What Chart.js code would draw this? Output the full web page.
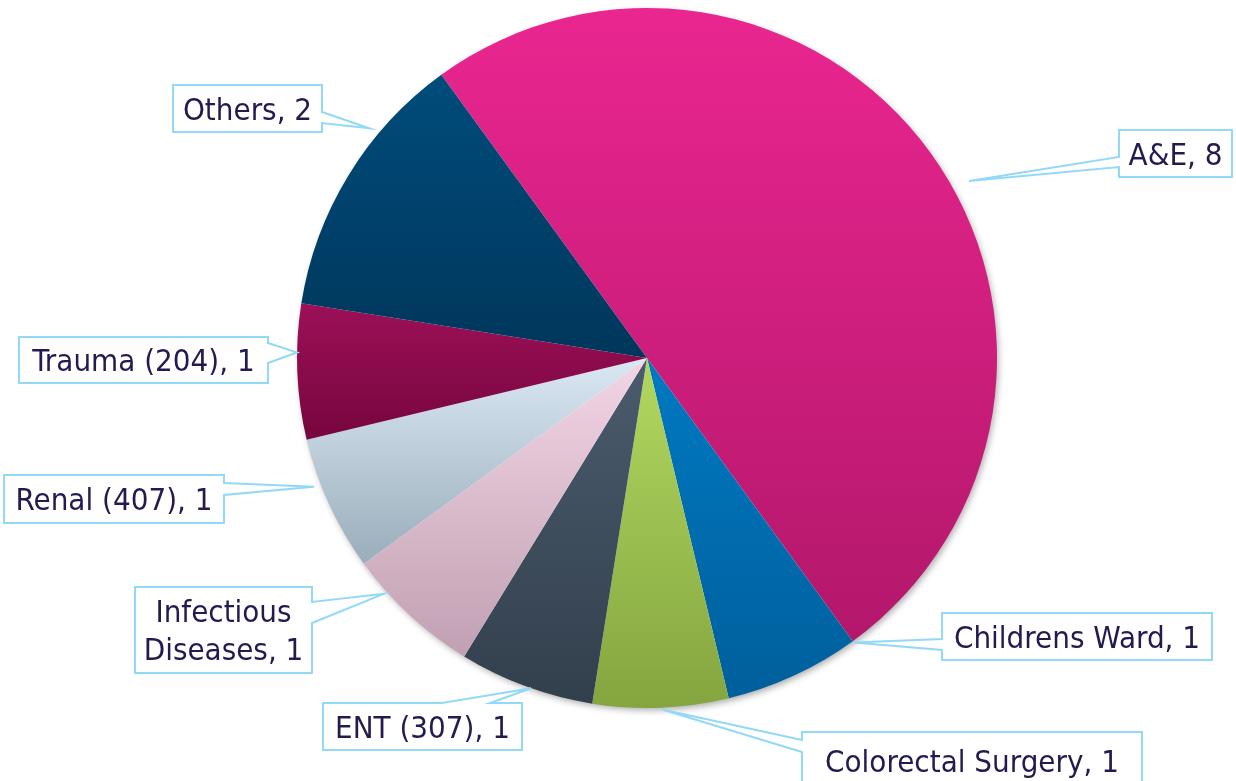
<!DOCTYPE html>
<html>
<head>
<meta charset="utf-8">
<script src="https://cdn.jsdelivr.net/npm/chart.js@4"></script>
<style>
  html, body { margin: 0; padding: 0; background: #fff; }
  #wrap { width: 1236px; height: 781px; position: relative; }
</style>
</head>
<body>
<div id="wrap"><canvas id="pie"></canvas></div>
<script>
// --- Data ---
const categories = ['A&E', 'Childrens Ward', 'Colorectal Surgery', 'ENT (307)',
  'Infectious Diseases', 'Renal (407)', 'Trauma (204)', 'Others'];
const counts = [8, 1, 1, 1, 1, 1, 1, 2];

// slice gradients, top colour -> bottom colour
const topColors = ['#ea2690', '#0079c1', '#b2d860', '#4b5c6d', '#f3d6e6', '#dae8f4', '#9c1058', '#004c7b'];
const bottomColors = ['#b3176b', '#005f9c', '#84a53f', '#323f4d', '#c0a0b2', '#9aadba', '#77053e', '#00365b'];

// --- Callout layout (box in px, which edge the pointer leaves from, where it lands on the slice) ---
const callouts = [
  { box: [1119, 130, 113, 47], edge: 'left', base: [157, 167], frac: 0.54, rad: 1.05, lines: ['A&E, 8'] },
  { box: [942, 613, 270, 47], edge: 'left', base: [639, 650], frac: 0.0, rad: 1.005, lines: ['Childrens Ward, 1'] },
  { box: [802, 732, 340, 60], edge: 'left', base: [740, 752], frac: 0.49, rad: 1.005, lines: ['Colorectal Surgery, 1'], textY: 761 },
  { box: [323, 703, 199, 47], edge: 'top', base: [442, 490], frac: 0.46, rad: 1.0, lines: ['ENT (307), 1'] },
  { box: [135, 587, 177, 86], edge: 'right', base: [602, 623], frac: 0.74, rad: 1.01, lines: ['Infectious', 'Diseases, 1'] },
  { box: [4, 475, 220, 48], edge: 'right', base: [483, 495], frac: 0.66, rad: 1.02, lines: ['Renal (407), 1'] },
  { box: [19, 337, 249, 46], edge: 'right', base: [343, 363], frac: 0.64, rad: 1.0, lines: ['Trauma (204), 1'] },
  { box: [173, 85, 149, 47], edge: 'right', base: [112, 123], frac: 0.68, rad: 1.03, lines: ['Others, 2'] }
];

const ROTATION = -36;
const TEXT_COLOR = '#231b4f';
const BORDER_COLOR = '#92d8f7';
const FONT = '31px "DejaVu Sans Condensed", "Liberation Sans", Arial, sans-serif';

// vertical gradient spanning the slice's own bounding box
function sliceGradient(context) {
  const chart = context.chart;
  const area = chart.chartArea;
  const i = context.dataIndex;
  if (!area) return topColors[i];
  const cx = (area.left + area.right) / 2;
  const cy = (area.top + area.bottom) / 2;
  const r = Math.min(area.right - area.left, area.bottom - area.top) / 2;
  const total = counts.reduce((a, b) => a + b, 0);
  const before = counts.slice(0, i).reduce((a, b) => a + b, 0);
  const a0 = (ROTATION - 90) * Math.PI / 180 + before / total * Math.PI * 2;
  const a1 = a0 + counts[i] / total * Math.PI * 2;
  const ys = [cy, cy + r * Math.sin(a0), cy + r * Math.sin(a1)];
  for (let k = -4; k <= 8; k++) {
    const a = k * Math.PI / 2 + Math.PI / 2;
    if (a > a0 && a < a1) ys.push(cy + r * Math.sin(a));
  }
  const g = chart.ctx.createLinearGradient(0, Math.min(...ys), 0, Math.max(...ys));
  g.addColorStop(0, topColors[i]);
  g.addColorStop(1, bottomColors[i]);
  return g;
}

const pieShadow = {
  id: 'pieShadow',
  beforeDatasetsDraw(chart) {
    const arc = chart.getDatasetMeta(0).data[0];
    if (!arc) return;
    const ctx = chart.ctx;
    ctx.save();
    ctx.shadowColor = 'rgba(0,0,0,0.35)';
    ctx.shadowBlur = 7;
    ctx.shadowOffsetX = 2;
    ctx.shadowOffsetY = 3;
    ctx.fillStyle = '#ffffff';
    ctx.beginPath();
    ctx.arc(arc.x, arc.y, arc.outerRadius - 1, 0, Math.PI * 2);
    ctx.fill();
    ctx.restore();
  }
};

const calloutLabels = {
  id: 'calloutLabels',
  afterDatasetsDraw(chart) {
    const ctx = chart.ctx;
    const arcs = chart.getDatasetMeta(0).data;
    callouts.forEach((c, i) => {
      const arc = arcs[i];
      const ang = arc.startAngle + (arc.endAngle - arc.startAngle) * c.frac;
      const tx = arc.x + Math.cos(ang) * arc.outerRadius * c.rad;
      const ty = arc.y + Math.sin(ang) * arc.outerRadius * c.rad;
      const [x, y, w, h] = c.box;
      const L = x, R = x + w, T = y, B = y + h;

      ctx.save();
      ctx.beginPath();
      ctx.moveTo(L, T);
      if (c.edge === 'top') {
        ctx.lineTo(c.base[0], T);
        ctx.lineTo(tx, ty);
        ctx.lineTo(c.base[1], T);
      }
      ctx.lineTo(R, T);
      if (c.edge === 'right') {
        ctx.lineTo(R, c.base[0]);
        ctx.lineTo(tx, ty);
        ctx.lineTo(R, c.base[1]);
      }
      ctx.lineTo(R, B);
      ctx.lineTo(L, B);
      if (c.edge === 'left') {
        ctx.lineTo(L, c.base[1]);
        ctx.lineTo(tx, ty);
        ctx.lineTo(L, c.base[0]);
      }
      ctx.closePath();
      ctx.fillStyle = '#ffffff';
      ctx.fill();
      ctx.lineWidth = 2;
      ctx.lineJoin = 'miter';
      ctx.strokeStyle = BORDER_COLOR;
      ctx.stroke();

      ctx.fillStyle = TEXT_COLOR;
      ctx.font = FONT;
      ctx.textAlign = 'center';
      ctx.textBaseline = 'middle';
      const lh = 38;
      const midY = c.textY || (y + h / 2);
      const startY = midY - (c.lines.length - 1) * lh / 2;
      c.lines.forEach((ln, k) => ctx.fillText(ln, x + w / 2, startY + k * lh + 3));
      ctx.restore();
    });
  }
};

new Chart(document.getElementById('pie'), {
  type: 'pie',
  data: {
    labels: categories,
    datasets: [{
      data: counts,
      backgroundColor: sliceGradient,
      borderWidth: 0,
      hoverOffset: 0,
      offset: 0
    }]
  },
  options: {
    responsive: true,
    maintainAspectRatio: false,
    animation: false,
    rotation: ROTATION,
    layout: { padding: { left: 297, right: 239, top: 8, bottom: 73 } },
    plugins: {
      legend: { display: false },
      tooltip: { enabled: false }
    },
    events: []
  },
  plugins: [pieShadow, calloutLabels]
});
</script>
</body>
</html>
